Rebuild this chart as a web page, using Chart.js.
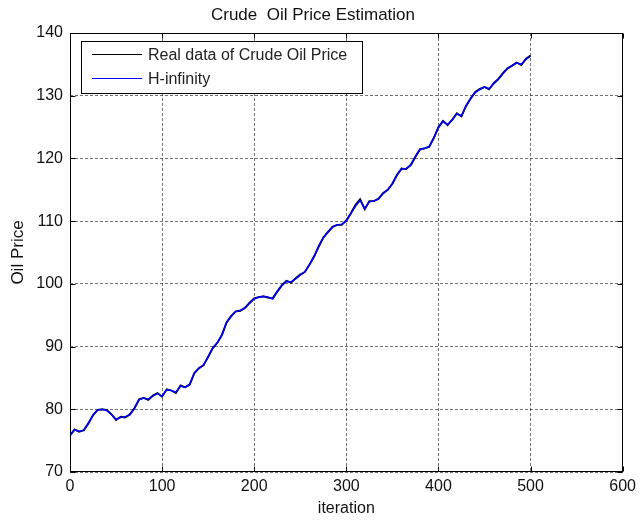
<!DOCTYPE html>
<html><head><meta charset="utf-8">
<script src="https://cdn.jsdelivr.net/npm/chart.js@4.4.1/dist/chart.umd.min.js"></script>
<style>html,body{margin:0;padding:0;background:#fff}canvas{display:block}</style>
</head><body>
<canvas id="c" width="641" height="520"></canvas>
<script>
const iterations = [0,5,10,15,20,25,30,35,40,45,50,55,60,65,70,75,80,85,90,95,
  100,105,110,115,120,125,130,135,140,145,150,155,160,165,170,175,180,185,190,195,
  200,205,210,215,220,225,230,235,240,245,250,255,260,265,270,275,280,285,290,295,
  300,305,310,315,320,325,330,335,340,345,350,355,360,365,370,375,380,385,390,395,
  400,405,410,415,420,425,430,435,440,445,450,455,460,465,470,475,480,485,490,495,500];
const realPrice = [75.9,76.8,76.4,76.7,77.8,79.1,79.9,80.0,79.9,79.2,78.3,78.8,78.7,79.2,80.2,81.6,81.8,81.5,82.2,82.6,
  82.0,83.2,83.0,82.6,83.8,83.5,84.0,85.8,86.6,87.0,88.4,89.8,90.6,91.9,93.9,94.9,95.6,95.7,96.2,97.0,
  97.7,97.9,98.0,97.8,97.7,98.8,99.8,100.5,100.2,100.9,101.5,101.9,103.1,104.4,106.0,107.4,108.3,109.1,109.4,109.4,
  110.1,111.3,112.6,113.5,111.9,113.2,113.2,113.6,114.5,115.0,116.0,117.4,118.4,118.3,119.0,120.3,121.5,121.6,121.9,123.3,
  125.0,126.0,125.3,126.2,127.2,126.7,128.4,129.6,130.6,131.1,131.4,131.0,132.0,132.7,133.6,134.4,134.8,135.3,134.9,135.9,136.4];
const hInfinity = [75.8,76.7,76.5,76.6,77.7,79.0,79.9,80.0,79.8,79.2,78.4,78.7,78.8,79.1,80.1,81.5,81.8,81.6,82.1,82.5,
  82.1,83.1,83.0,82.7,83.7,83.5,83.9,85.7,86.5,87.1,88.3,89.7,90.6,91.8,93.8,94.8,95.6,95.8,96.1,96.9,
  97.6,97.9,98.0,97.9,97.6,98.7,99.7,100.4,100.3,100.8,101.4,101.9,103.0,104.3,105.9,107.3,108.2,109.0,109.4,109.5,
  110.0,111.2,112.4,113.3,112.0,113.1,113.2,113.5,114.4,115.0,115.9,117.3,118.3,118.4,118.9,120.2,121.4,121.6,121.8,123.2,
  124.9,125.9,125.4,126.1,127.1,126.8,128.3,129.5,130.5,131.0,131.4,131.1,131.9,132.6,133.5,134.3,134.8,135.2,135.0,135.8,136.3];
const xTickValues = [0,100,200,300,400,500,600];
const yTickValues = [70,80,90,100,110,120,130,140];
const seriesLabels = ['Real data of Crude Oil Price','H-infinity'];
const seriesColors = ['#000000','#0000ff'];
const chartTitle = 'Crude  Oil Price Estimation';
const xTitle = 'iteration';
const yTitle = 'Oil Price';

const FONT = "'Liberation Sans', Arial, Helvetica, sans-serif";

const framePlugin = {
  id: 'frame',
  afterDatasetsDraw(chart) {
    const {ctx, chartArea: a, scales: {x, y}} = chart;
    ctx.save();
    ctx.strokeStyle = '#000';
    ctx.lineWidth = 1;
    ctx.setLineDash([]);
    const L = Math.round(a.left) + 0.5, R = Math.round(a.right) - 0.5;
    const T = Math.round(a.top) + 0.5, B = Math.round(a.bottom) - 0.5;
    ctx.strokeRect(L, T, R - L, B - T);
    ctx.beginPath();
    xTickValues.forEach(v => {
      const px = Math.round(x.getPixelForValue(v)) + 0.5;
      ctx.moveTo(px, B); ctx.lineTo(px, B - 5);
      ctx.moveTo(px, T); ctx.lineTo(px, T + 5);
    });
    yTickValues.forEach(v => {
      const py = Math.round(y.getPixelForValue(v)) + 0.5;
      ctx.moveTo(L, py); ctx.lineTo(L + 5, py);
      ctx.moveTo(R, py); ctx.lineTo(R - 5, py);
    });
    ctx.stroke();
    // legend box
    const lx = 81.5, ly = 41.5, lw = 281, lh = 52;
    ctx.fillStyle = '#fff';
    ctx.fillRect(lx, ly, lw, lh);
    ctx.strokeRect(lx, ly, lw, lh);
    ctx.font = '16px ' + FONT;
    ctx.textBaseline = 'middle';
    ctx.textAlign = 'left';
    const rows = [54.5, 78.5];
    chart.data.datasets.slice().sort((p, q) => p.legendIndex - q.legendIndex).forEach((ds, i) => {
      ctx.strokeStyle = ds.borderColor;
      ctx.lineWidth = 1.2;
      ctx.beginPath();
      ctx.moveTo(92, rows[i]); ctx.lineTo(142, rows[i]);
      ctx.stroke();
      ctx.fillStyle = '#222';
      ctx.fillText(ds.label, 148, rows[i] + 1);
    });
    ctx.restore();
  }
};

new Chart(document.getElementById('c'), {
  type: 'line',
  data: {
    datasets: [
      {
        label: seriesLabels[0], legendIndex: 0, order: 2,
        data: iterations.map((it, i) => ({x: it, y: realPrice[i]})),
        borderColor: seriesColors[0], borderWidth: 1.8, pointRadius: 0, tension: 0, fill: false
      },
      {
        label: seriesLabels[1], legendIndex: 1, order: 1,
        data: iterations.map((it, i) => ({x: it, y: hInfinity[i]})),
        borderColor: seriesColors[1], borderWidth: 1.6, pointRadius: 0, tension: 0, fill: false
      }
    ]
  },
  options: {
    responsive: false,
    devicePixelRatio: 1,
    animation: false,
    layout: {padding: {left: 0, right: 15, top: 0, bottom: 0}},
    plugins: {
      legend: {display: false},
      tooltip: {enabled: false},
      title: {
        display: true, text: chartTitle, color: '#111',
        font: {family: FONT, size: 17, weight: 'normal'},
        padding: {top: 5, bottom: 7.6}
      }
    },
    scales: {
      x: {
        type: 'linear', min: 0, max: 600,
        afterBuildTicks: s => { s.ticks = xTickValues.map(v => ({value: v})); },
        afterFit: s => { s.height = 48; },
        ticks: {color: '#111', font: {family: FONT, size: 16}, padding: 5, maxRotation: 0},
        grid: {color: 'rgba(0,0,0,0.55)', lineWidth: 1, drawTicks: false},
        border: {display: false, dash: [3, 2]},
        title: {display: true, text: xTitle, color: '#111', font: {family: FONT, size: 16}, padding: {top: 0, bottom: 2}}
      },
      y: {
        type: 'linear', min: 70, max: 140,
        afterBuildTicks: s => { s.ticks = yTickValues.map(v => ({value: v})); },
        afterFit: s => { s.width = 70; },
        ticks: {color: '#111', font: {family: FONT, size: 16}, padding: 7},
        grid: {color: 'rgba(0,0,0,0.55)', lineWidth: 1, drawTicks: false},
        border: {display: false, dash: [3, 2]},
        title: {display: true, text: yTitle, color: '#111', font: {family: FONT, size: 17}, padding: {top: 8, bottom: 0}}
      }
    }
  },
  plugins: [framePlugin]
});
</script>
</body></html>
